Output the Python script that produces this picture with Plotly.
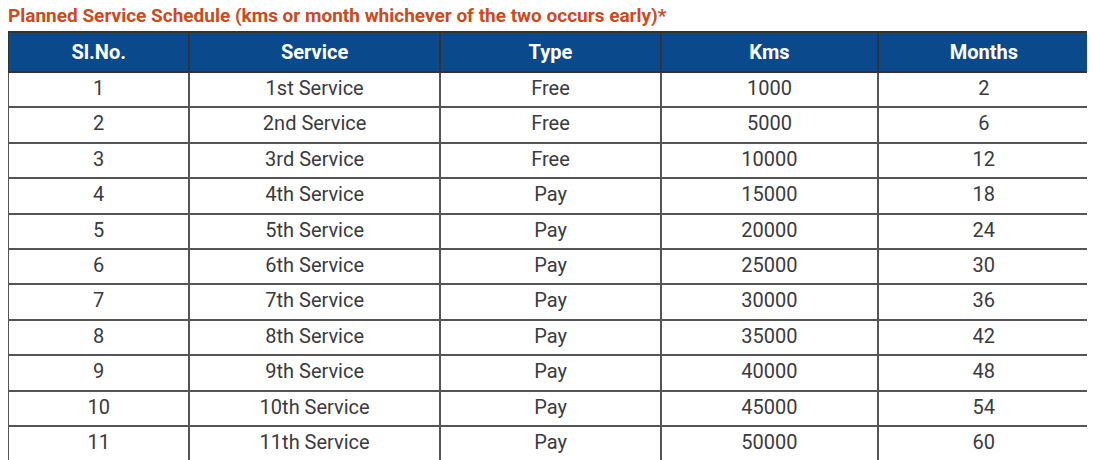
import plotly.graph_objects as go

headers = ["Sl.No.", "Service", "Type", "Kms", "Months"]
sl_no = [str(i) for i in range(1, 12)]
services = ["1st Service", "2nd Service", "3rd Service", "4th Service", "5th Service", "6th Service",
            "7th Service", "8th Service", "9th Service", "10th Service", "11th Service"]
types = ["Free", "Free", "Free"] + ["Pay"] * 8
kms = ["1000", "5000", "10000", "15000", "20000", "25000", "30000", "35000", "40000", "45000", "50000"]
months = ["2", "6", "12", "18", "24", "30", "36", "42", "48", "54", "60"]

fig = go.Figure(go.Table(
    columnwidth=[182, 251, 222, 217, 213],
    header=dict(values=[f"<b>{h}</b>" for h in headers], fill_color="#0a4a8c",
                font=dict(color="white", size=20, family="Roboto"), align="center",
                height=35, line=dict(color="#333333", width=2)),
    cells=dict(values=[sl_no, services, types, kms, months], fill_color="white",
               font=dict(color="#3a3a40", size=20, family="Roboto"), align="center",
               height=35.4, line=dict(color="#555555", width=2)),
))
fig.update_layout(
    width=1090, height=452, margin=dict(l=0, r=8, t=24, b=0), paper_bgcolor="white",
    title=dict(text="<b>Planned Service Schedule (kms or month whichever of the two occurs early)*</b>",
               x=0.0, xanchor="left", y=0.998, yanchor="top",
               font=dict(color="#cc4a1c", size=19, family="Roboto")),
)
fig.write_html("out.html")
